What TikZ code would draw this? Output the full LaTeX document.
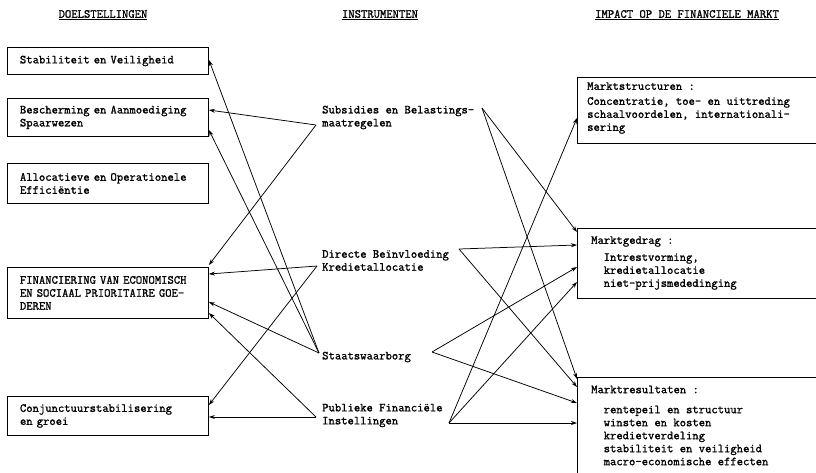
\documentclass[tikz,border=0pt]{standalone}
\usepackage{fontspec}
\setmonofont{Latin Modern Mono}[AutoFakeBold=1.3]
\usetikzlibrary{arrows.meta}
\begin{document}
\begin{tikzpicture}[x=1pt,y=-1pt,
  every node/.style={font=\fontsize{12.3}{13}\selectfont\ttfamily\bfseries},
  lbox/.style={draw, line width=0.9pt, anchor=north west, text width=176pt,
    inner xsep=12.5pt, inner ysep=0pt, align=left},
  rbox/.style={draw, line width=0.9pt, anchor=north west, minimum width=290pt, inner sep=0pt},
  txt/.style={inner sep=0pt, align=left, anchor=west},
  head/.style={inner sep=0pt},
  conn/.style={line width=0.75pt, -{Stealth[length=6pt,width=4pt]}},
]
\useasboundingbox (0,0) rectangle (816,472);
\clip (0,0) rectangle (816,472);

% headings
\node[head] (h1) at (103,15) {\underline{DOELSTELLINGEN}};
\node[head] (h2) at (380,15) {\underline{INSTRUMENTEN}};
\node[head] (h3) at (687,15) {\underline{IMPACT OP DE FINANCIELE MARKT}};

% left boxes
\node[lbox, minimum height=27pt] (B1) at (7,47) {Stabiliteit en Veiligheid};
\node[lbox, minimum height=38pt] (B2) at (7,98) {Bescherming en Aanmoediging\\Spaarwezen};
\node[lbox, minimum height=40pt] (B3) at (7,163) {Allocatieve en Operationele\\Efficiëntie};
\node[lbox, minimum height=51pt] (B4) at (7,267) {FINANCIERING VAN ECONOMISCH\\EN SOCIAAL PRIORITAIRE GOE-\\DEREN};
\node[lbox, minimum height=39pt] (B5) at (7,396) {Conjunctuurstabilisering\\en groei};

% instruments
\node[txt] (I1) at (322,117.5) {Subsidies en Belastings-\\maatregelen};
\node[txt] (I2) at (322,260.5) {Directe Beïnvloeding\\Kredietallocatie};
\node[txt] (I3) at (322,357) {Staatswaarborg};
\node[txt] (I4) at (322,415.5) {Publieke Financiële\\Instellingen};

\coordinate (SL) at (316,125); \coordinate (SR) at (482,108);
\coordinate (DL) at (317,266); \coordinate (DR) at (459,249);
\coordinate (WL) at (319,353); \coordinate (WR) at (432,352);
\coordinate (PL) at (316,417); \coordinate (PR) at (449,423);

% right boxes
\node[rbox, minimum height=66pt] (R1) at (577,77) {};
\node[rbox, minimum height=70pt] (R2) at (577,228) {};
\node[rbox, minimum height=130pt] (R3) at (577,377) {};

\node[txt] (R1t) at (587,108) {Marktstructuren :\\[2pt]Concentratie, toe- en uittreding\\schaalvoordelen, internationali-\\sering};
\node[txt] (R2t) at (591,263) {Marktgedrag :\\[4pt]\hspace*{12.5pt}Intrestvorming,\\\hspace*{12.5pt}kredietallocatie\\\hspace*{12.5pt}niet-prijsmededinging};
\node[txt] (R3t) at (591,425.5) {Marktresultaten :\\[7pt]\hspace*{12.5pt}rentepeil en structuur\\\hspace*{12.5pt}winsten en kosten\\\hspace*{12.5pt}kredietverdeling\\\hspace*{12.5pt}stabiliteit en veiligheid\\\hspace*{12.5pt}macro-economische effecten};

% connectors to objectives
\draw[conn] (SL) -- (B2.east |- 0,110);
\draw[conn] (SL) -- (B4.east |- 0,265);
\draw[conn] (DL) -- (B4.east |- 0,274);
\draw[conn] (DL) -- (B5.east |- 0,405);
\draw[conn] (WL) -- (B1.east |- 0,60);
\draw[conn] (WL) -- (B2.east |- 0,130);
\draw[conn] (WL) -- (B4.east |- 0,302);
\draw[conn] (PL) -- (B4.east |- 0,313);
\draw[conn] (PL) -- (B5.east |- 0,417);

% connectors to market impact
\draw[conn] (SR) -- (R2.west |- 0,232);
\draw[conn] (SR) -- (R3.west |- 0,379);
\draw[conn] (DR) -- (R2.west |- 0,245);
\draw[conn] (DR) -- (R3.west |- 0,387);
\draw[conn] (WR) -- (R2.west |- 0,267);
\draw[conn] (WR) -- (R3.west |- 0,403);
\draw[conn] (PR) -- (R1.west |- 0,118);
\draw[conn] (PR) -- (R2.west |- 0,282);
\draw[conn] (PR) -- (R3.west |- 0,423);
\end{tikzpicture}
\end{document}
